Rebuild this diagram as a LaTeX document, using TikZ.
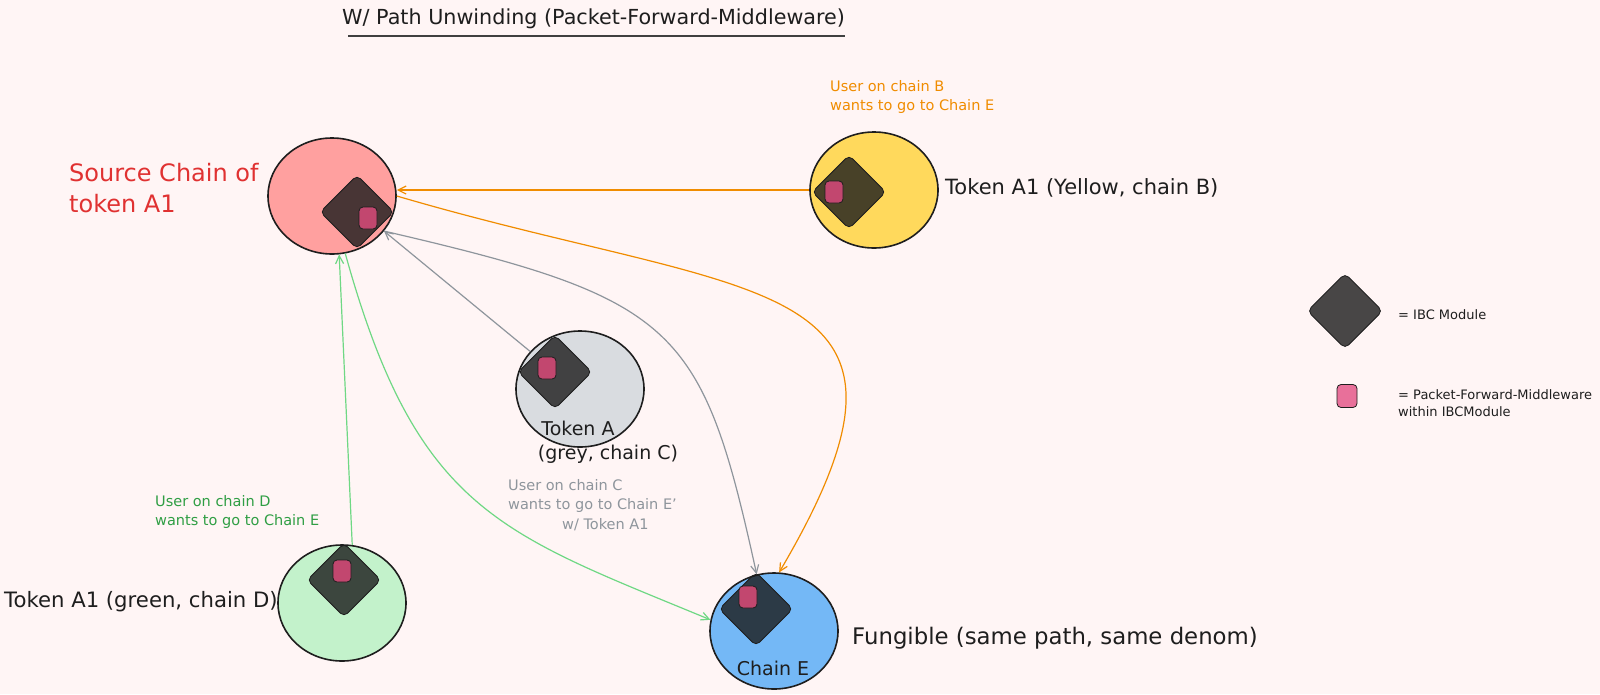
\documentclass[tikz,border=0pt]{standalone}
\usepackage{fontspec}
\setmainfont{DejaVu Sans}
\usetikzlibrary{shapes.geometric,arrows.meta}
\definecolor{bg}{HTML}{FFF5F5}
\definecolor{srcfill}{HTML}{FFA09F}
\definecolor{yelfill}{HTML}{FFD95C}
\definecolor{greyfill}{HTML}{D9DCE0}
\definecolor{grnfill}{HTML}{C3F2CB}
\definecolor{bluefill}{HTML}{74B8F6}
\definecolor{modfill}{HTML}{1B1B1B}
\definecolor{pfmfill}{HTML}{C2476F}
\definecolor{pfmlegend}{HTML}{E8709A}
\definecolor{orangeC}{HTML}{F08C00}
\definecolor{greyC}{HTML}{8E959C}
\definecolor{greenC}{HTML}{6FD884}
\definecolor{greenT}{HTML}{2F9E44}
\definecolor{redT}{HTML}{E03131}
\definecolor{inkC}{HTML}{1E1E1E}
\begin{document}
\begin{tikzpicture}[x=1pt,y=-1pt,
  chain/.style={ellipse, draw=inkC, line width=1.6pt, minimum width=128pt, minimum height=116pt, inner sep=0pt},
  module/.style={draw=inkC, line width=0.8pt, fill=modfill, fill opacity=0.8, rounded corners=5pt, minimum size=52pt, rotate=45, inner sep=0pt},
  pfm/.style={draw=inkC, line width=0.8pt, fill=pfmfill, rounded corners=4pt, minimum width=18pt, minimum height=22pt, inner sep=0pt},
  link/.style={line width=1.2pt, -{Straight Barb[length=8pt,width=8pt]}},
  big/.style={font=\fontsize{20.5}{24}\selectfont, text=inkC, inner sep=0pt},
  small/.style={font=\fontsize{14.5}{19.5}\selectfont, inner sep=0pt, align=left},
  legendtxt/.style={font=\fontsize{13}{17}\selectfont, text=inkC, inner sep=0pt, align=left, anchor=west},
]
\useasboundingbox (0,0) rectangle (1600,694);
\fill[bg] (0,0) rectangle (1600,694);

% title
\node[big, anchor=west, font=\fontsize{20.7}{24}\selectfont] (title) at (342,19) {W/ Path Unwinding (Packet-Forward-Middleware)};
\draw[line width=1.4pt, draw=inkC!85] (348,36) -- (845,36);

% chains
\node[chain, fill=srcfill] (src) at (332,196) {};
\node[chain, fill=yelfill] (yel) at (874,190) {};
\node[chain, fill=greyfill] (gry) at (580,389) {};
\node[chain, fill=grnfill] (grn) at (342,603) {};
\node[chain, fill=bluefill] (chE) at (774,631) {};

% IBC modules
\node[module] (srcmod) at (357,212) {};
\node[module] (yelmod) at (849,192) {};
\node[module] (grymod) at (555,372) {};
\node[module] (grnmod) at (344,580) {};
\node[module] (Emod) at (756,609) {};

% packet-forward-middleware
\node[pfm] (srcpfm) at (368,218) {};
\node[pfm] (yelpfm) at (834,192) {};
\node[pfm] (grypfm) at (547,368) {};
\node[pfm] (grnpfm) at (342,571) {};
\node[pfm] (Epfm) at (748,597) {};

% connectors
\draw[link, orangeC] (yel.west) -- (src.east |- yel.west);
\draw[link, orangeC] (src.east) .. controls (758,302) and (958,269) .. (chE.85);
\draw[link, greyC] (gry.143) -- (src.-34);
\draw[link, greyC] (src.-34) .. controls (677,299) and (702,325) .. (chE.107);
\draw[link, greenC] (grn.80) -- (src.-83);
\draw[link, greenC] (src.-77) .. controls (417,512) and (501,533) .. (chE.170);

% texts
\node[big, anchor=west, text=redT, font=\fontsize{24}{31}\selectfont, align=left] (srcT) at (69,188) {Source Chain of\\token A1};
\node[small, anchor=west, text=orangeC] (userB) at (830,97) {User on chain B\\wants to go to Chain E};
\node[big, anchor=west, font=\fontsize{21}{24}\selectfont] (yelT) at (945,188) {Token A1 (Yellow, chain B)};
\node[big, font=\fontsize{19}{24}\selectfont] (gryT1) at (578,428) {Token A};
\node[big, font=\fontsize{19}{24}\selectfont] (gryT2) at (608,454) {(grey, chain C)};
\node[small, anchor=west, text=greyC] (userC) at (508,505) {User on chain C\\wants to go to Chain E'\\\hspace*{54pt}w/ Token A1};
\node[small, anchor=west, text=greenT] (userD) at (155,512) {User on chain D\\wants to go to Chain E};
\node[big, anchor=west, font=\fontsize{21.2}{24}\selectfont] (grnT) at (4,602) {Token A1 (green, chain D)};
\node[big, font=\fontsize{19}{24}\selectfont] (chET) at (773,668) {Chain E};
\node[big, anchor=west, font=\fontsize{22.8}{26}\selectfont] (fungT) at (852,638) {Fungible (same path, same denom)};

% legend
\node[module, minimum size=53pt] (legmod) at (1345,311) {};
\node[legendtxt] (legmodT) at (1398,315) {= IBC Module};
\node[pfm, fill=pfmlegend, minimum width=20pt, minimum height=23pt] (legpfm) at (1347,396) {};
\node[legendtxt] (legpfmT) at (1398,403.5) {= Packet-Forward-Middleware\\within IBCModule};
\end{tikzpicture}
\end{document}
